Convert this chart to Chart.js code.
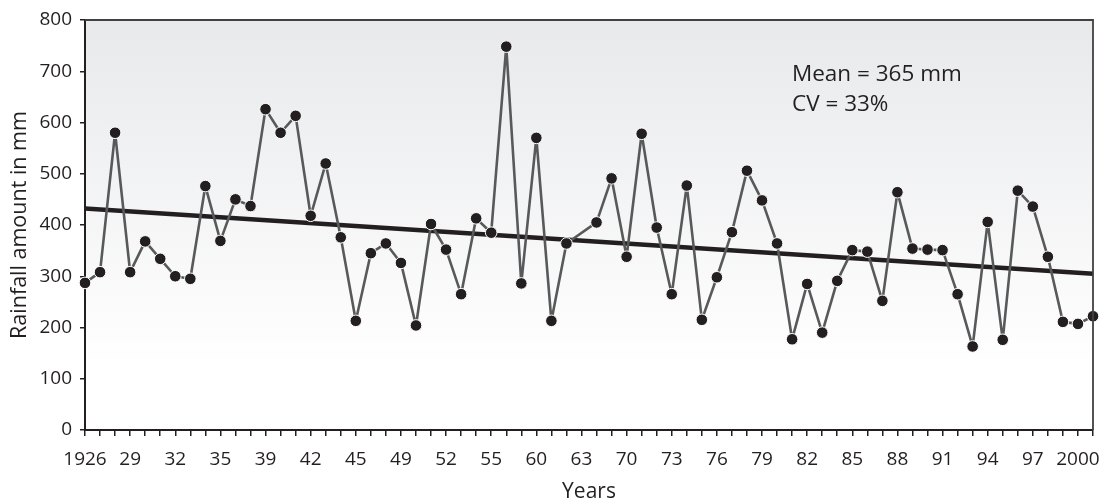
<!DOCTYPE html>
<html>
<head>
<meta charset="utf-8">
<script src="https://cdn.jsdelivr.net/npm/chart.js@4.4.1/dist/chart.umd.min.js"></script>
<style>
  html, body { margin: 0; padding: 0; background: #ffffff; }
  #wrap { width: 1105px; height: 499px; }
</style>
</head>
<body>
<div id="wrap"><canvas id="chart" width="1105" height="499"></canvas></div>
<script>
// Annual rainfall (mm), one value per observation slot; null = no record
const rainfall = [
  287, 308, 580, 308, 368, 334, 300, 295, 476, 369,
  450, 437, 626, 580, 613, 418, 520, 376, 213, 345,
  364, 326, 204, 402, 352, 265, 413, 385, 748, 286,
  570, 213, 364, null, 405, 491, 338, 578, 395, 265,
  477, 215, 298, 386, 506, 448, 364, 177, 285, 190,
  291, 351, 348, 252, 464, 354, 352, 351, 265, 163,
  406, 176, 467, 436, 338, 211, 207, 222
];

// Year labels printed under every third slot
const yearTicks = [
  '1926', '29', '32', '35', '39', '42', '45', '49', '52', '55', '60', '63',
  '70', '73', '76', '79', '82', '85', '88', '91', '94', '97', '2000'
];

// Linear trend: start and end values
const trendEnds = [432, 305];

const meanLabel = 'Mean = 365 mm';
const cvLabel = 'CV = 33%';

const categories = rainfall.map((_, i) => (i % 3 === 0 ? (yearTicks[i / 3] || '') : ''));
const trend = rainfall.map((_, i) => (i === 0 ? trendEnds[0] : (i === rainfall.length - 1 ? trendEnds[1] : null)));

const ink = '#231f20';
const fontFamily = '"Open Sans", "Noto Sans", sans-serif';

// Shaded plot background plus the closing frame on the top and right
const plotFrame = {
  id: 'plotFrame',
  beforeDraw(chart) {
    const { ctx, chartArea: a } = chart;
    const g = ctx.createLinearGradient(0, a.top, 0, a.bottom);
    g.addColorStop(0, '#e8e9eb');
    g.addColorStop(0.85, '#ffffff');
    g.addColorStop(1, '#ffffff');
    ctx.save();
    ctx.fillStyle = g;
    ctx.fillRect(a.left, a.top, a.right - a.left, a.bottom - a.top);
    ctx.restore();
  },
  afterDraw(chart) {
    const { ctx, chartArea: a } = chart;
    ctx.save();
    ctx.strokeStyle = '#414042';
    ctx.lineWidth = 1.8;
    ctx.beginPath();
    ctx.moveTo(a.left, a.top);
    ctx.lineTo(a.right, a.top);
    ctx.lineTo(a.right, a.bottom);
    ctx.stroke();
    ctx.restore();
  }
};

// Summary statistics written inside the plot
const statsNote = {
  id: 'statsNote',
  afterDraw(chart) {
    const { ctx, chartArea: a } = chart;
    ctx.save();
    ctx.fillStyle = ink;
    ctx.font = '22.5px ' + fontFamily;
    ctx.textAlign = 'left';
    ctx.textBaseline = 'alphabetic';
    ctx.fillText(meanLabel, a.left + 707, a.top + 61);
    ctx.fillText(cvLabel, a.left + 707, a.top + 91);
    ctx.restore();
  }
};

new Chart(document.getElementById('chart'), {
  type: 'line',
  data: {
    labels: categories,
    datasets: [
      {
        label: 'Rainfall',
        data: rainfall,
        spanGaps: true,
        borderColor: '#58595b',
        borderWidth: 2.6,
        borderJoinStyle: 'round',
        tension: 0,
        pointRadius: 5.8,
        pointBackgroundColor: ink,
        pointBorderColor: '#ffffff',
        pointBorderWidth: 1,
        fill: false
      },
      {
        label: 'Trend',
        data: trend,
        spanGaps: true,
        borderColor: ink,
        borderWidth: 4.5,
        pointRadius: 0,
        tension: 0,
        fill: false
      }
    ]
  },
  options: {
    responsive: false,
    animation: false,
    events: [],
    layout: { padding: { top: 20, right: 12, left: 0, bottom: 0 } },
    plugins: { legend: { display: false }, tooltip: { enabled: false } },
    scales: {
      x: {
        type: 'category',
        offset: false,
        afterFit(s) { s.height = 69; },
        grid: { display: true, drawOnChartArea: false, drawTicks: true, tickLength: 6, color: ink, lineWidth: 1.5 },
        border: { display: true, color: ink, width: 2 },
        ticks: {
          autoSkip: false, maxRotation: 0, minRotation: 0, padding: 12,
          color: ink, font: { family: fontFamily, size: 19 }
        },
        title: {
          display: true, text: 'Years', color: ink,
          font: { family: fontFamily, size: 21, lineHeight: 1 },
          padding: { top: 0, bottom: -4 }
        }
      },
      y: {
        min: 0, max: 800,
        afterFit(s) { s.width = 85; },
        grid: { display: true, drawOnChartArea: false, drawTicks: true, tickLength: 5, color: ink, lineWidth: 1.5 },
        border: { display: true, color: ink, width: 2 },
        ticks: {
          stepSize: 100, padding: 8,
          color: ink, font: { family: fontFamily, size: 19 }
        },
        title: {
          display: true, text: 'Rainfall amount in mm', color: ink,
          font: { family: fontFamily, size: 21.5, lineHeight: 1 },
          padding: { top: 9, bottom: 0 }
        }
      }
    }
  },
  plugins: [plotFrame, statsNote]
});
</script>
</body>
</html>
